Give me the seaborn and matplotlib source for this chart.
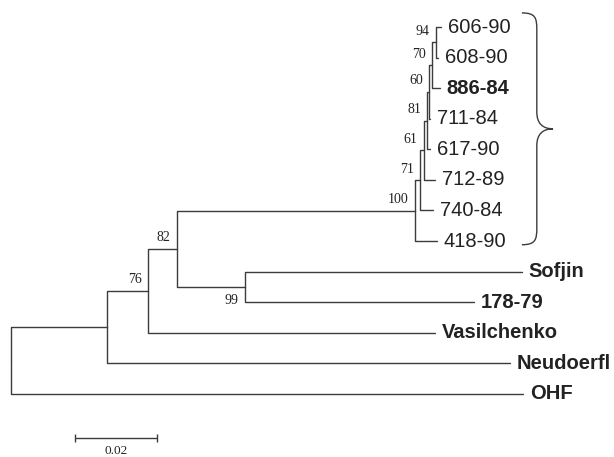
import numpy as np
import pandas as pd
import matplotlib
matplotlib.use("Agg")
import matplotlib.pyplot as plt
import seaborn as sns
from matplotlib.path import Path
from matplotlib.patches import PathPatch

# ---- tree data -------------------------------------------------------------
node_names = ['root', 'N1', 'OHF', 'N76', 'Neudoerfl', 'N82', 'Vasilchenko',
              'N100', 'N99', 'Sofjin', '178-79', 'N71', '418-90', 'N61', '740-84',
              'N81', '712-89', 'N60', '617-90', 'N70', '711-84', 'N94', '886-84',
              '606-90', '608-90']
parents = [None, 'root', 'root', 'N1', 'N1', 'N76', 'N76',
           'N82', 'N82', 'N99', 'N99', 'N100', 'N100', 'N71', 'N71',
           'N61', 'N61', 'N81', 'N81', 'N60', 'N60', 'N70', 'N70',
           'N94', 'N94']
branch_lengths = [0.0, 0.0234, 0.1249, 0.0100, 0.0983, 0.0071, 0.0700,
                  0.0580, 0.0166, 0.0675, 0.0558, 0.0013, 0.0054, 0.0009, 0.0031,
                  0.0008, 0.0027, 0.0005, 0.0007, 0.0007, 0.0002, 0.0010, 0.0019,
                  0.0012, 0.0004]
leaf_order = ['606-90', '608-90', '886-84', '711-84', '617-90', '712-89', '740-84',
              '418-90', 'Sofjin', '178-79', 'Vasilchenko', 'Neudoerfl', 'OHF']
bold_leaves = ['886-84', 'Sofjin', '178-79', 'Vasilchenko', 'Neudoerfl', 'OHF']
support_nodes = ['N94', 'N70', 'N60', 'N81', 'N61', 'N71', 'N100', 'N82', 'N76', 'N99']
support_values = [94, 70, 60, 81, 61, 71, 100, 82, 76, 99]
cluster_leaves = leaf_order[:8]
scale_length = 0.02
scale_label = '0.02'

# ---- layout ----------------------------------------------------------------
parent_of = dict(zip(node_names, parents))
blen = dict(zip(node_names, branch_lengths))
children = {n: [] for n in node_names}
for n, p in zip(node_names, parents):
    if p is not None:
        children[p].append(n)

xpos = {}
def set_x(n, base):
    xpos[n] = base + blen[n]
    for c in children[n]:
        set_x(c, xpos[n])
set_x('root', 0.0)

ypos = {n: float(i) for i, n in enumerate(leaf_order)}
def set_y(n):
    if n in ypos:
        return ypos[n]
    ys = [set_y(c) for c in children[n]]
    ypos[n] = (min(ys) + max(ys)) / 2
    return ypos[n]
set_y('root')

rows = []
for n in node_names:
    p = parent_of[n]
    if p is None:
        continue
    pts = [(xpos[p], ypos[p]), (xpos[p], ypos[n]), (xpos[n], ypos[n])]
    for k, (x, y) in enumerate(pts):
        rows.append({'seg': n, 'order': k, 'x': x, 'y': y})
segs = pd.DataFrame(rows)

# ---- figure ----------------------------------------------------------------
sns.set_style('white')
fig = plt.figure(figsize=(6.14, 4.57), dpi=100)
ax = fig.add_axes([0, 0, 1, 1])

line_col = '#3c3c3c'
sns.lineplot(data=segs, x='x', y='y', units='seg', estimator=None, sort=False,
             color=line_col, lw=1.0, ax=ax, legend=False)

px = 4100.0  # pixels per substitution unit
ypx = 30.58
ax.set_xlim(-11 / px, (614 - 11) / px)
ax.set_ylim((457 - 27) / ypx, -27 / ypx)
ax.axis('off')

sans = ['Liberation Sans', 'DejaVu Sans']
serif = ['Liberation Serif', 'DejaVu Serif']
txt_col = '#222222'

for leaf in leaf_order:
    ax.annotate(leaf, (xpos[leaf], ypos[leaf]), xytext=(5, 0),
                textcoords='offset points', ha='left', va='center',
                fontsize=14.5, family=sans, color=txt_col,
                fontweight='bold' if leaf in bold_leaves else 'normal')

for n, v in zip(support_nodes, support_values):
    off = (-5, -10) if n == 'N99' else (-4.5, 8)
    ax.annotate(str(v), (xpos[n], ypos[n]), xytext=off,
                textcoords='offset points', ha='right', va='center',
                fontsize=10, family=serif, color=txt_col)

# brace around the cluster
bx0 = max(xpos[l] for l in cluster_leaves) + 0.0197
bw = 0.0076
ytop = ypos[cluster_leaves[0]] - 0.46
ybot = ypos[cluster_leaves[-1]] + 0.12
ymid = (ytop + ybot) / 2
r = 0.55
xm = bx0 + bw * 0.48
xt = bx0 + bw
verts = [(bx0, ytop), (xm * 0.5 + bx0 * 0.5 + bw * 0.2, ytop), (xm, ytop + r * 0.3), (xm, ytop + r),
         (xm, ymid - r),
         (xm, ymid - r * 0.3), (xm + bw * 0.2, ymid), (xt, ymid),
         (xm + bw * 0.2, ymid), (xm, ymid + r * 0.3), (xm, ymid + r),
         (xm, ybot - r),
         (xm, ybot - r * 0.3), (xm * 0.5 + bx0 * 0.5 + bw * 0.2, ybot), (bx0, ybot)]
codes = [Path.MOVETO, Path.CURVE4, Path.CURVE4, Path.CURVE4,
         Path.LINETO,
         Path.CURVE4, Path.CURVE4, Path.CURVE4,
         Path.CURVE4, Path.CURVE4, Path.CURVE4,
         Path.LINETO,
         Path.CURVE4, Path.CURVE4, Path.CURVE4]
ax.add_patch(PathPatch(Path(verts, codes), fill=False, edgecolor=line_col, lw=1.0))

# scale bar
sx0 = 64 / px
sy = (438 - 27) / ypx
ax.hlines(sy, sx0, sx0 + scale_length, color=line_col, lw=1.0)
ax.vlines([sx0, sx0 + scale_length], sy - 0.13, sy + 0.13, color=line_col, lw=1.0)
ax.text(sx0 + scale_length / 2, sy + 0.22, scale_label, ha='center', va='top',
        fontsize=9.5, family=serif, color=txt_col)

fig.savefig('out.png', dpi=100)
